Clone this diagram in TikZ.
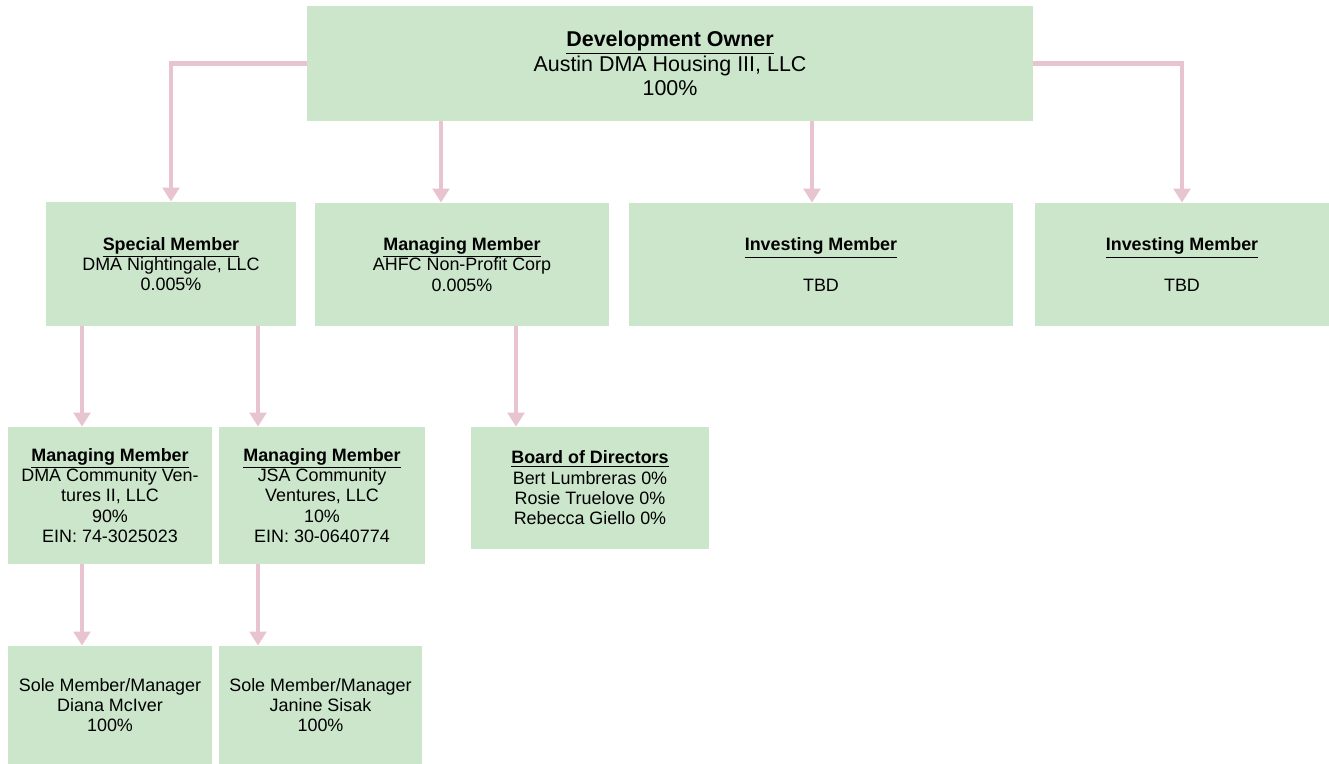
\documentclass[tikz,border=0pt]{standalone}
\usepackage{fontspec}
\setmainfont{Liberation Sans}
\usepackage{tikz}
\usetikzlibrary{arrows.meta,positioning,calc}
\usepackage{xcolor}
\definecolor{boxGreen}{HTML}{CCE6CC}
\definecolor{linkPink}{HTML}{E8C4D0}

\begin{document}
\begin{tikzpicture}[
  font=\fontsize{10.2}{11.6}\selectfont,
  ent/.style={fill=boxGreen, draw=none, align=center, inner sep=0pt},
  link/.style={draw=linkPink, line width=2.3pt,
    -{Triangle[width=0.33cm,length=0.28cm]}},
]
\useasboundingbox (0,0) rectangle (26.58,15.28);
\node[ent, minimum width=14.52cm, minimum height=2.3cm,
  font=\fontsize{12.2}{14}\selectfont] (own) at (13.4,14.01)
  {\textbf{\underline{Development Owner}}\\Austin DMA Housing III, LLC\\100\%};
\node[ent, minimum width=5cm, minimum height=2.48cm] (spec) at (3.42,10.0)
  {\textbf{\underline{Special Member}}\\DMA Nightingale, LLC\\0.005\%};
\node[ent, minimum width=5.88cm, minimum height=2.46cm] (mng) at (9.24,9.99)
  {\textbf{\underline{Managing Member}}\\AHFC Non-Profit Corp\\0.005\%};
\node[ent, minimum width=7.68cm, minimum height=2.46cm] (inv1) at (16.42,9.99)
  {\textbf{\underline{Investing Member}}\\[11.6pt]TBD};
\node[ent, minimum width=5.88cm, minimum height=2.46cm] (inv2) at (23.64,9.99)
  {\textbf{\underline{Investing Member}}\\[11.6pt]TBD};
\node[ent, minimum width=4.08cm, minimum height=2.74cm] (dmacv) at (2.2,5.37)
  {\textbf{\underline{Managing Member}}\\DMA Community Ven-\\tures II, LLC\\90\%\\EIN: 74-3025023};
\node[ent, minimum width=4.12cm, minimum height=2.74cm] (jsacv) at (6.44,5.37)
  {\textbf{\underline{Managing Member}}\\JSA Community\\Ventures, LLC\\10\%\\EIN: 30-0640774};
\node[ent, minimum width=4.76cm, minimum height=2.44cm] (board) at (11.8,5.52)
  {\textbf{\underline{Board of Directors}}\\Bert Lumbreras 0\%\\Rosie Truelove 0\%\\Rebecca Giello 0\%};
\node[ent, minimum width=4.08cm, minimum height=2.36cm] (sole1) at (2.2,1.18)
  {Sole Member/Manager\\Diana McIver\\100\%};
\node[ent, minimum width=4.06cm, minimum height=2.36cm] (sole2) at (6.41,1.18)
  {Sole Member/Manager\\Janine Sisak\\100\%};

% owner to members
\draw[link] (own.west) -| (spec.north);
\draw[link] ([xshift=-0.42cm]mng.north |- own.south) -- ([xshift=-0.42cm]mng.north);
\draw[link] ([xshift=-0.18cm]inv1.north |- own.south) -- ([xshift=-0.18cm]inv1.north);
\draw[link] (own.east) -| (inv2.north);
% second level
\draw[link] ([xshift=-0.56cm]dmacv.north |- spec.south) -- ([xshift=-0.56cm]dmacv.north);
\draw[link] ([xshift=-1.28cm]jsacv.north |- spec.south) -- ([xshift=-1.28cm]jsacv.north);
\draw[link] ([xshift=-1.48cm]board.north |- mng.south) -- ([xshift=-1.48cm]board.north);
% third level
\draw[link] ([xshift=-0.56cm]sole1.north |- dmacv.south) -- ([xshift=-0.56cm]sole1.north);
\draw[link] ([xshift=-1.25cm]sole2.north |- jsacv.south) -- ([xshift=-1.25cm]sole2.north);
\end{tikzpicture}
\end{document}
